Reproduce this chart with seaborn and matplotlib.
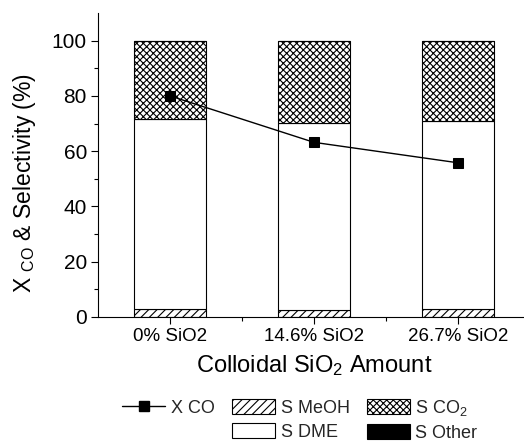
import matplotlib
matplotlib.use("Agg")
import matplotlib.pyplot as plt
import matplotlib.patches as mpatches
import matplotlib.lines as mlines
import numpy as np
import pandas as pd
import seaborn as sns

# Catalyst samples and measured values (%)
samples = ["0% SiO2", "14.6% SiO2", "26.7% SiO2"]
s_meoh = [3.0, 2.7, 3.0]
s_dme = [68.7, 67.6, 68.0]
s_co2 = [28.3, 29.7, 29.0]
s_other = [0.0, 0.0, 0.0]
x_co = [80.0, 63.2, 55.8]

sns.set_theme(style="ticks")
plt.rcParams["font.family"] = ["Liberation Sans", "DejaVu Sans"]
plt.rcParams["hatch.linewidth"] = 0.8
plt.rcParams["mathtext.fontset"] = "custom"
plt.rcParams["mathtext.rm"] = "Liberation Sans"
plt.rcParams["mathtext.it"] = "Liberation Sans"

df = pd.DataFrame({"sample": samples, "meoh": s_meoh, "dme": s_dme,
                   "co2": s_co2, "other": s_other, "xco": x_co})

fig = plt.figure(figsize=(5.24, 4.43), dpi=100)
ax = fig.add_axes([98 / 524, 126 / 443, 432 / 524, 304 / 443])

layers = [("meoh", "////", "white"), ("dme", "", "white"),
          ("co2", "xxxxx", "white"), ("other", "", "black")]
bottom = np.zeros(len(samples))
for col, hatch, fc in layers:
    sns.barplot(data=df, x="sample", y=col, ax=ax, bottom=bottom,
                width=0.5, color=fc, edgecolor="black", linewidth=0.8,
                hatch=hatch, saturation=1, errorbar=None)
    bottom = bottom + df[col].to_numpy()

sns.pointplot(data=df, x="sample", y="xco", ax=ax, color="black",
              markers="s", markersize=6.5, linewidth=1.0, errorbar=None)

ax.set_xlim(-0.5, 2.5)
ax.set_ylim(0, 110)
ax.set_yticks([0, 20, 40, 60, 80, 100])
ax.set_yticks([10, 30, 50, 70, 90], minor=True)
ax.set_xticks([0.5, 1.5], minor=True)
ax.tick_params(axis="both", which="major", length=5, width=0.8,
               color="black", labelcolor="black", pad=3)
ax.tick_params(axis="x", which="major", labelsize=13.5)
ax.tick_params(axis="y", which="major", labelsize=15)
ax.tick_params(axis="both", which="minor", length=3, width=0.8, color="black")
for s in ("top", "right"):
    ax.spines[s].set_visible(False)
for s in ("left", "bottom"):
    ax.spines[s].set_color("black")
    ax.spines[s].set_linewidth(0.8)

ax.set_ylabel(r"X $_{\rm CO}$ & Selectivity (%)", fontsize=16.5, color="black")
ax.yaxis.set_label_coords(-0.14, 0.44)
ax.set_xlabel(r"Colloidal SiO$_2$ Amount", fontsize=17, color="black",
              labelpad=6)

h_xco = mlines.Line2D([], [], color="black", marker="s", markersize=6.5,
                      linewidth=1.0)
h_meoh = mpatches.Patch(facecolor="white", edgecolor="black", hatch="////",
                        linewidth=0.8)
h_co2 = mpatches.Patch(facecolor="white", edgecolor="black", hatch="xxxxx",
                       linewidth=0.8)
h_dme = mpatches.Patch(facecolor="white", edgecolor="black", linewidth=0.8)
h_oth = mpatches.Patch(facecolor="black", edgecolor="black", linewidth=0.8)
h_blank = mpatches.Patch(facecolor="none", edgecolor="none")

fig.legend([h_xco, h_blank, h_meoh, h_dme, h_co2, h_oth],
           ["X CO", "", "S MeOH", "S DME", r"S CO$_2$", "S Other"],
           ncol=3, loc="upper left", bbox_to_anchor=(122 / 524, 1 - 398 / 443),
           frameon=False, fontsize=13, handlelength=2.4, handleheight=0.9,
           handletextpad=0.3, columnspacing=0.95, labelspacing=0.35,
           borderaxespad=0, borderpad=0)

fig.savefig("out.png", dpi=100)
